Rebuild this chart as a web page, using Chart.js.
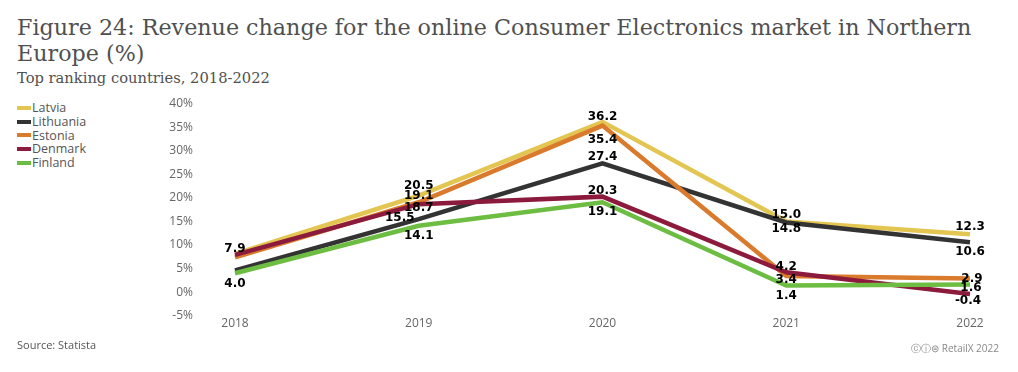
<!DOCTYPE html>
<html>
<head>
<meta charset="utf-8">
<script src="https://cdn.jsdelivr.net/npm/chart.js@4/dist/chart.umd.min.js"></script>
<style>
  html, body { margin: 0; padding: 0; background: #fff; }
  body { width: 1018px; height: 372px; position: relative; overflow: hidden; }
  #title { position: absolute; left: 17px; top: 14px; font-family: "DejaVu Serif", serif; color: #505050; line-height: 26px; white-space: nowrap; }
  #subtitle { position: absolute; left: 17px; top: 68px; font-family: "DejaVu Serif", serif; color: #505050; line-height: 20px; white-space: nowrap; }
  #legend { position: absolute; left: 17px; top: 101px; font-family: "Open Sans", sans-serif; font-size: 12.5px; color: #555; }
  .li { height: 13.8px; line-height: 13.8px; display: flex; align-items: center; }
  .sw { width: 14px; height: 4px; margin-right: 1px; }
  #wrap { position: absolute; left: 0; top: 90px; width: 1018px; height: 260px; }
  #source { position: absolute; left: 17px; top: 337px; font-family: "Open Sans", sans-serif; font-size: 11px; color: #555; }
  #credit { position: absolute; right: 19px; top: 341px; font-family: "Open Sans", sans-serif; font-size: 10px; color: #888; }
</style>
</head>
<body>
<div id="title">Figure 24: Revenue change for the online Consumer Electronics market in Northern<br>Europe (%)</div>
<div id="subtitle">Top ranking countries, 2018-2022</div>
<div id="legend"></div>
<div id="wrap"><canvas id="c"></canvas></div>
<div id="source">Source: Statista</div>
<div id="credit">ⓒⓘ⊜ RetailX 2022</div>
<script>
// ---- data ----
const years = ["2018", "2019", "2020", "2021", "2022"];
const seriesNames = ["Latvia", "Lithuania", "Estonia", "Denmark", "Finland"];
const latvia    = [8.1, 20.5, 36.2, 15.0, 12.3];
const lithuania = [4.6, 15.5, 27.4, 14.8, 10.6];
const estonia   = [7.4, 19.1, 35.4, 3.4, 2.9];
const denmark   = [7.9, 18.7, 20.3, 4.2, -0.4];
const finland   = [4.0, 14.1, 19.1, 1.4, 1.6];
const yTickValues = [-5, 0, 5, 10, 15, 20, 25, 30, 35, 40];

// ---- styles ----
const colors = ["#e3c552", "#333333", "#d97a2c", "#8c1a3c", "#6cbd42"];
// label offsets [dx, dy] in px per point (null = label hidden in the original)
const labelOffsets = [
  [null, [0, -10], [0, -5], [0, -7], [0, -7]],
  [null, [-19, -1], [0, -6], [0, 6], [0, 10]],
  [null, [0, -6], [0, 14], [0, 4], [2, 0]],
  [[0, -6], [0, 4], [0, -6], [0, -5], [-2, 7]],
  [[0, 11], [0, 10], [0, 10], [0, 10], [1, 3.5]]
];

const seriesData = [latvia, lithuania, estonia, denmark, finland];

// fit title widths
function fit(el, target) {
  el.style.fontSize = "20px";
  const w = el.getBoundingClientRect().width;
  el.style.fontSize = (20 * target / w) + "px";
}
const t = document.getElementById("title");
t.innerHTML = "Figure 24: Revenue change for the online Consumer Electronics market in Northern";
fit(t, 955);
t.innerHTML = "Figure 24: Revenue change for the online Consumer Electronics market in Northern<br>Europe (%)";
fit(document.getElementById("subtitle"), 253);

// legend
const lg = document.getElementById("legend");
seriesNames.forEach((n, i) => {
  const d = document.createElement("div");
  d.className = "li";
  d.innerHTML = '<span class="sw" style="background:' + colors[i] + '"></span><span>' + n + '</span>';
  lg.appendChild(d);
});

const labelPlugin = {
  id: "valueLabels",
  afterDatasetsDraw(chart) {
    const ctx = chart.ctx;
    ctx.save();
    ctx.font = "bold 12px 'DejaVu Sans', sans-serif";
    ctx.textAlign = "center";
    ctx.textBaseline = "middle";
    ctx.fillStyle = "#000";
    chart.data.datasets.forEach((ds, i) => {
      const meta = chart.getDatasetMeta(i);
      meta.data.forEach((pt, j) => {
        const off = labelOffsets[i][j];
        if (!off) return;
        ctx.fillText(ds.data[j].toFixed(1), pt.x + off[0], pt.y + off[1]);
      });
    });
    ctx.restore();
  }
};

new Chart(document.getElementById("c"), {
  type: "line",
  data: {
    labels: years,
    datasets: seriesNames.map((n, i) => ({
      label: n,
      data: seriesData[i],
      borderColor: colors[i],
      backgroundColor: colors[i],
      borderWidth: 4.5,
      pointRadius: 0,
      tension: 0,
      order: 5 - i,
      borderJoinStyle: "miter"
    }))
  },
  options: {
    responsive: true,
    maintainAspectRatio: false,
    animation: false,
    layout: { padding: { left: 168, right: 48, top: 14, bottom: 18 } },
    plugins: { legend: { display: false }, tooltip: { enabled: false } },
    scales: {
      x: {
        offset: false,
        grid: { display: false, drawTicks: false },
        border: { display: false },
        ticks: { color: "#666", font: { family: "Open Sans", size: 12 }, padding: 1, maxRotation: 0 }
      },
      y: {
        min: -5, max: 40,
        afterBuildTicks(scale) { scale.ticks = yTickValues.map(v => ({ value: v })); },
        afterFit(scale) { scale.width = 67; scale.paddingTop = 7; scale.paddingBottom = 7; },
        grid: { display: false, drawTicks: false },
        border: { display: false },
        ticks: { color: "#666", font: { family: "Open Sans", size: 12 }, padding: 42, callback: v => v + "%" }
      }
    }
  },
  plugins: [labelPlugin]
});
</script>
</body>
</html>
